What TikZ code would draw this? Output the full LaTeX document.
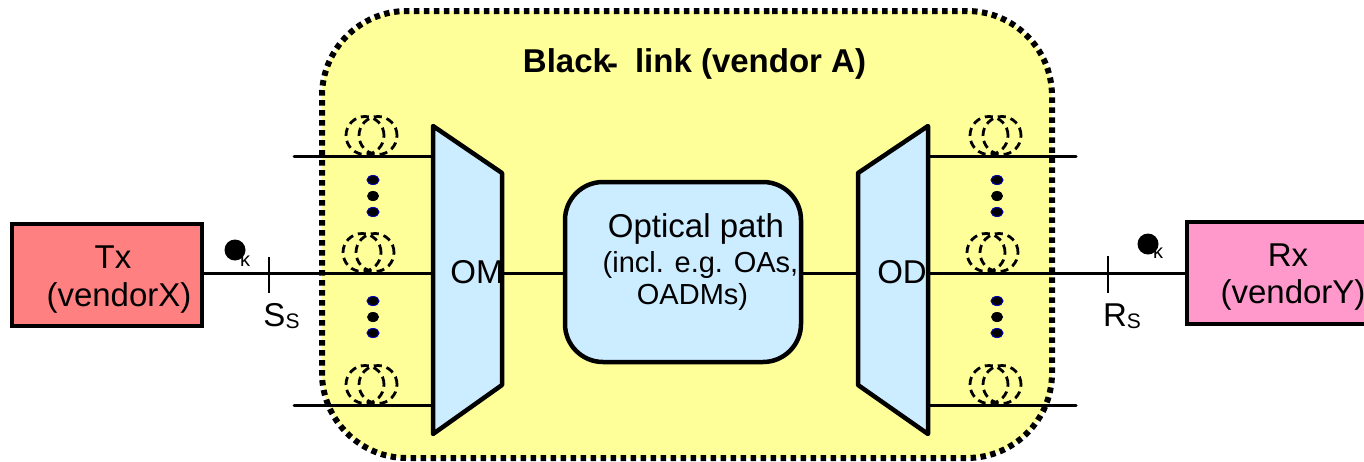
\documentclass[tikz,border=0pt]{standalone}
\usepackage{fontspec}
\setmainfont{Liberation Sans}
\usetikzlibrary{shapes.geometric}
\definecolor{linkfill}{RGB}{255,255,153}
\definecolor{partblue}{RGB}{204,236,255}
\definecolor{txred}{RGB}{255,128,128}
\definecolor{rxpink}{RGB}{255,153,204}
\tikzset{
  x=1pt,y=-1pt,
  wire/.style={line width=3pt,line cap=round},
  heavy/.style={line width=4.5pt,line join=round},
  vendorbox/.style={draw,line width=4pt,minimum width=190pt,minimum height=102pt,inner sep=0pt},
  tick/.style={line width=2pt},
  loopring/.style={circle,draw,dash pattern=on 8pt off 5pt,line width=2.8pt,minimum size=38pt,inner sep=0pt},
  bluedot/.style={ellipse,fill=black,draw=blue!70!black,line width=1pt,minimum width=12pt,inner sep=0pt,minimum height=9pt},
  blackdot/.style={ellipse,fill=black,minimum width=12pt,minimum height=10pt,inner sep=0pt},
  bigdot/.style={circle,fill=black,minimum size=21pt,inner sep=0pt},
  lab/.style={inner sep=0pt,font=\fontsize{33}{38}\selectfont},
  smalllab/.style={inner sep=0pt,font=\fontsize{29}{32}\selectfont},
  kappa/.style={inner sep=0pt,font=\fontsize{20}{20}\selectfont},
}
\newcommand{\loopsat}[3]{%
  \node[loopring] (#3a) at (#1,#2) {};
  \node[loopring] (#3b) at (#1+13,#2) {};
}
\newcommand{\dotsat}[3]{%
  \node[bluedot] (#3a) at (#1,#2-16) {};
  \node[blackdot] (#3b) at (#1,#2) {};
  \node[bluedot] (#3c) at (#1,#2+16) {};
}
\begin{document}
\begin{tikzpicture}
\useasboundingbox (0,0) rectangle (1364,461);
% black link area
\node[draw=none,fill=linkfill,rounded corners=85pt,minimum width=730pt,minimum height=447pt,inner sep=0pt] (link) at (687,234.5) {};
\draw[line width=6pt,dash pattern=on 5.5pt off 4.5pt,rounded corners=85pt] (687,11) -- (1052,11) -- (1052,458) -- (322,458) -- (322,11) -- cycle;
\node[inner sep=0pt,font=\fontsize{33}{36}\selectfont\bfseries] (title) at (694.5,64) {Black\kern-4pt\raisebox{-2pt}{-}\kern17pt link (vendor A)};
% OM and OD
\coordinate (omA) at (433,126); \coordinate (omB) at (502,173); \coordinate (omC) at (502,385); \coordinate (omD) at (433,434);
\coordinate (odA) at (928,126); \coordinate (odB) at (858,173); \coordinate (odC) at (858,385); \coordinate (odD) at (928,434);
\draw[heavy,fill=partblue] (omA) -- (omB) -- (omC) -- (omD) -- cycle;
\draw[heavy,fill=partblue] (odA) -- (odB) -- (odC) -- (odD) -- cycle;
\coordinate (omT) at (433,156); \coordinate (omM) at (433,273); \coordinate (omL) at (433,405);
\coordinate (omR) at (502,273); \coordinate (odLf) at (858,273);
\coordinate (odT) at (928,156); \coordinate (odM) at (928,273); \coordinate (odL) at (928,405);
\coordinate (inT) at (294,156); \coordinate (inL) at (294,405);
\coordinate (outT) at (1076,156); \coordinate (outL) at (1076,405);
\node[draw,heavy,fill=partblue,rounded corners=38pt,minimum width=236pt,minimum height=180pt,inner sep=0pt] (path) at (683,272) {};
\node[lab] (pathA) at (696,229) {Optical path};
\node[smalllab] (pathB) at (700.5,265) {(incl. e.g. OAs,};
\node[smalllab] (pathC) at (692.5,297) {OADMs)};
\node[lab] (om) at (477,272) {OM};
\node[lab] (od) at (902,272) {OD};
% end boxes
\node[vendorbox,fill=txred] (tx) at (107,274.5) {};
\node[vendorbox,fill=rxpink,minimum width=200pt] (rx) at (1287,272.5) {};
\node[lab] (txA) at (113,257) {Tx};
\node[lab] (txB) at (119,298) {(vendorX)};
\node[lab] (rxA) at (1288,255) {Rx};
\node[lab] (rxB) at (1293,295) {(vendorY)};
% wires
\draw[wire] (inT) -- (omT);
\draw[wire] (tx.east |- omM) -- (omM);
\draw[wire] (inL) -- (omL);
\draw[wire] (omR) -- (path.west |- omR);
\draw[wire] (path.east |- omR) -- (odLf);
\draw[wire] (odT) -- (outT);
\draw[wire] (odM) -- (rx.west |- odM);
\draw[wire] (odL) -- (outL);
% reference points
\coordinate (ssA) at (269,257); \coordinate (ssB) at (269,293);
\coordinate (rsA) at (1108,256); \coordinate (rsB) at (1108,293);
\draw[tick] (ssA) -- (ssB);
\draw[tick] (rsA) -- (rsB);
\node[lab] (ss) at (281.5,316) {S{\fontsize{21}{21}\selectfont\raisebox{-2pt}{S}}};
\node[lab] (rs) at (1122,316) {R{\fontsize{21}{21}\selectfont\raisebox{-2pt}{S}}};
\node[bigdot] (kdotL) at (235,250) {};
\node[kappa] (kL) at (245,261) {κ};
\node[bigdot] (kdotR) at (1148,244) {};
\node[kappa] (kR) at (1158,253) {κ};
% loops
\loopsat{365}{135.5}{lt}
\loopsat{362}{252.5}{lm}
\loopsat{365}{384.5}{lb}
\loopsat{989}{135.5}{rt}
\loopsat{986}{252.5}{rm}
\loopsat{989}{384.5}{rb}
% dots
\dotsat{373}{196}{dl}
\dotsat{373}{317}{dk}
\dotsat{997}{196}{dr}
\dotsat{997}{317}{dq}
\end{tikzpicture}
\end{document}
